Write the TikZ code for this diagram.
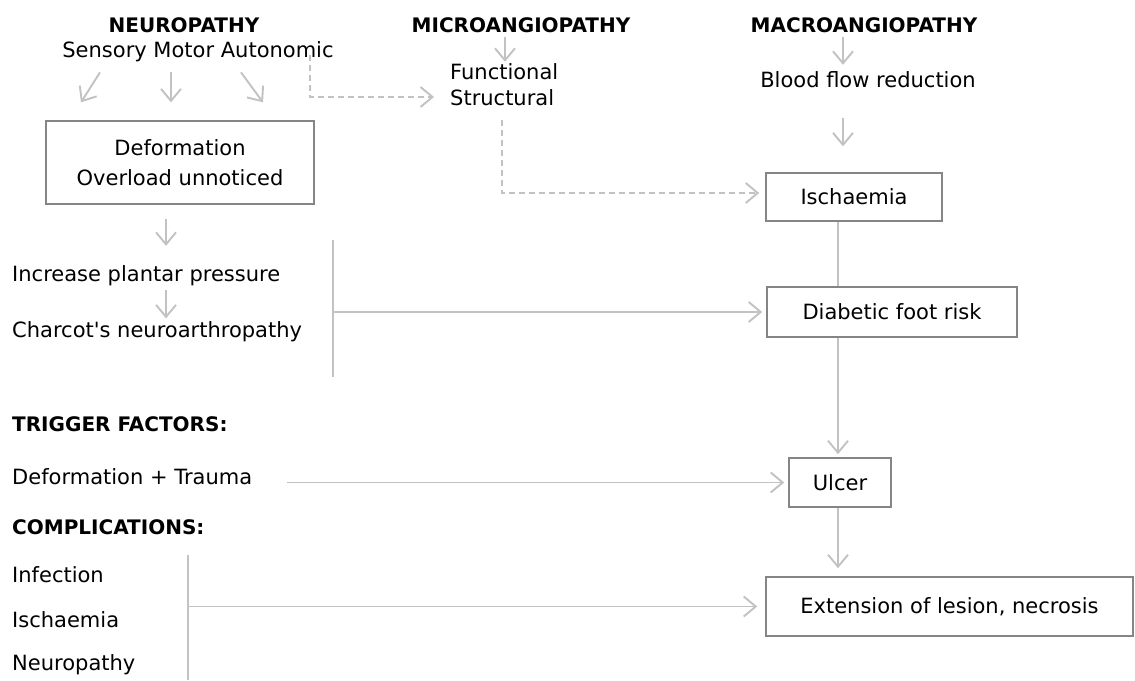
\documentclass[tikz,border=0pt]{standalone}
\usepackage{fontspec}
\setmainfont{DejaVu Sans}
\usetikzlibrary{arrows.meta}
\definecolor{lnc}{HTML}{C2C2C2}
\definecolor{bxc}{HTML}{858585}
\tikzset{
  txt/.style={inner sep=0pt, font=\fontsize{21}{26}\selectfont},
  ttl/.style={txt, font=\fontsize{20}{26}\selectfont\bfseries},
  box/.style={draw=bxc, line width=1.6pt, inner sep=0pt, align=center, font=\fontsize{21}{30}\selectfont},
  conn/.style={draw=lnc, line width=1.9pt},
  arr/.style={conn, -{Straight Barb[length=12pt,width=20pt,line width=1.9pt]}},
  dsh/.style={arr, dash pattern=on 6pt off 4pt}
}
\begin{document}
\begin{tikzpicture}[x=1pt,y=-1pt]
\useasboundingbox (0,0) rectangle (1135,680);
% left column
\node[ttl] (neu) at (184,25) {NEUROPATHY};
\node[txt] (sma) at (198,52) {Sensory Motor Autonomic};
\node[box, minimum width=268pt, minimum height=83pt] (def) at (180,162.5) {Deformation\\Overload unnoticed};
\node[txt, anchor=west] (ipp) at (12,276) {Increase plantar pressure};
\node[txt, anchor=west] (cha) at (12,332) {Charcot\textquotesingle s neuroarthropathy};
\node[ttl, anchor=west] (tf) at (12,424) {TRIGGER FACTORS:};
\node[txt, anchor=west] (dt) at (12,477) {Deformation + Trauma};
\node[ttl, anchor=west] (comp) at (12,527) {COMPLICATIONS:};
\node[txt, anchor=west] (inf) at (12,575) {Infection};
\node[txt, anchor=west] (isl) at (12,620) {Ischaemia};
\node[txt, anchor=west] (nel) at (12,665) {Neuropathy};
% middle column
\node[ttl] (mic) at (521,25) {MICROANGIOPATHY};
\node[txt, anchor=west, align=left] (fs) at (450,85) {Functional\\Structural};
% right column
\node[ttl] (mac) at (864,25) {MACROANGIOPATHY};
\node[txt] (bfr) at (868,80) {Blood flow reduction};
\node[box, minimum width=176pt, minimum height=48pt] (isch) at (854,197) {Ischaemia};
\node[box, minimum width=250pt, minimum height=50pt] (dfr) at (892,312) {Diabetic foot risk};
\node[box, minimum width=102pt, minimum height=49pt] (ulc) at (840,482.5) {Ulcer};
\node[box, minimum width=367pt, minimum height=59pt] (ext) at (949.5,606.5) {Extension of lesion, necrosis};
% helper coordinates
\coordinate (sp) at (838,0);
\coordinate (ua) at (843,0);
\coordinate (ma) at (505,0);
\coordinate (la) at (166,0);
\coordinate (b1t) at (333,240);
\coordinate (b1b) at (333,377);
\coordinate (b1m) at (333,312);
\coordinate (b2t) at (188,555);
\coordinate (b2b) at (188,680);
\coordinate (b2m) at (188,606.5);
\coordinate (t1) at (287,482.5);
\coordinate (d1) at (310,55);
\coordinate (d3) at (502,120);
% neuropathy arrows
\draw[arr] (sma.south) ++(-98,10) -- ++(-19,30);
\draw[arr] (sma.south) ++(-27,10) -- ++(0,30);
\draw[arr] (sma.south) ++(43,10) -- ++(22,30);
\draw[arr] (def.south -| la) ++(0,14) -- ++(0,27);
\draw[arr] (ipp.south -| la) ++(0,4) -- ++(0,28);
\draw[conn] (b1t) -- (b1b);
\draw[arr] (b1m) -- ([xshift=-4pt]dfr.west);
% dashed
\draw[dsh] (d1) |- ([xshift=-16pt,yshift=-12pt]fs.west);
\draw[dsh] (d3) |- ([xshift=-6pt,yshift=4pt]isch.west);
% micro / macro arrows
\draw[arr] (mic.south -| ma) ++(0,4) -- ++(0,25);
\draw[arr] (mac.south -| ua) ++(0,4) -- ++(0,28);
\draw[arr] (bfr.south -| ua) ++(0,30) -- ++(0,28);
% spine
\draw[conn] (isch.south -| sp) -- (dfr.north -| sp);
\draw[arr] (dfr.south -| sp) -- ([yshift=3pt]ulc.north -| sp);
\draw[arr] (ulc.south -| sp) -- ([yshift=8pt]ext.north -| sp);
% trigger and complications
\draw[arr] (t1) -- ([xshift=-4pt]ulc.west);
\draw[conn] (b2t) -- (b2b);
\draw[arr] (b2m) -- ([xshift=-8pt]ext.west);
\end{tikzpicture}
\end{document}
